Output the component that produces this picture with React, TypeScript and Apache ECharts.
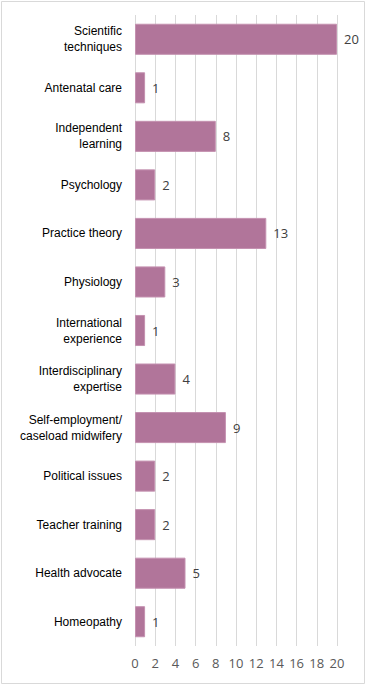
import React, { useEffect, useRef } from "react";
import * as echarts from "echarts";

const categories = [
  "Scientific\ntechniques",
  "Antenatal care",
  "Independent\nlearning",
  "Psychology",
  "Practice theory",
  "Physiology",
  "International\nexperience",
  "Interdisciplinary\nexpertise",
  "Self-employment/\ncaseload midwifery",
  "Political issues",
  "Teacher training",
  "Health advocate",
  "Homeopathy",
];
const values = [20, 1, 8, 2, 13, 3, 1, 4, 9, 2, 2, 5, 1];
const xTicks = { min: 0, max: 20, interval: 2 };

export default function App() {
  const ref = useRef<HTMLDivElement>(null);
  useEffect(() => {
    if (!ref.current) return;
    const chart = echarts.init(ref.current, null, { renderer: "svg" });
    chart.setOption({
      animation: false,
      backgroundColor: "#ffffff",
      graphic: [
        {
          type: "rect",
          shape: { x: 1.5, y: 1.5, width: 363, height: 682 },
          style: { fill: "none", stroke: "#d9d9d9", lineWidth: 1 },
          silent: true,
        },
      ],
      grid: { left: 135, right: 30, top: 15, bottom: 40, containLabel: false },
      xAxis: {
        type: "value",
        min: xTicks.min,
        max: xTicks.max,
        interval: xTicks.interval,
        axisLine: { show: false },
        axisTick: { show: false },
        splitLine: { show: true, lineStyle: { color: "#d9d9d9", width: 1 } },
        axisLabel: {
          margin: 10,
          color: "#595959",
          fontSize: 13,
          fontFamily: "Open Sans",
        },
      },
      yAxis: {
        type: "category",
        inverse: true,
        data: categories,
        axisLine: { show: false },
        axisTick: { show: false },
        axisLabel: {
          margin: 13,
          color: "#000000",
          fontSize: 12,
          lineHeight: 16,
          fontFamily: "Liberation Sans",
          align: "right",
        },
      },
      series: [
        {
          type: "bar",
          data: values,
          barCategoryGap: "36%",
          itemStyle: { color: "#b1759a", borderColor: "#c491b0", borderWidth: 1 },
          label: {
            show: true,
            position: "right",
            distance: 7,
            color: "#404040",
            fontSize: 13,
            fontFamily: "Open Sans",
          },
        },
      ],
    });
    return () => chart.dispose();
  }, []);
  return (
    <div
      ref={ref}
      style={{ position: "absolute", left: 0, top: 0, width: 367, height: 686 }}
    />
  );
}
